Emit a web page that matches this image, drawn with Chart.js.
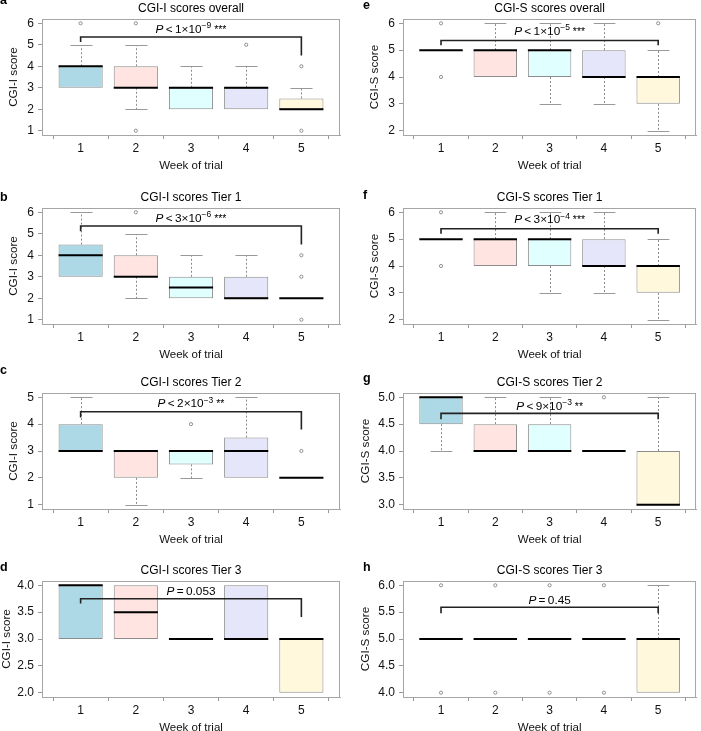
<!DOCTYPE html>
<html>
<head>
<meta charset="utf-8">
<script src="https://cdn.jsdelivr.net/npm/chart.js@4.4.1/dist/chart.umd.min.js"></script>
<style>
  html, body { margin: 0; padding: 0; background: #fff; }
  body { position: relative; width: 701px; height: 731px; overflow: hidden; font-family: "Liberation Sans", Arial, sans-serif; }
  canvas { position: absolute; }
  .tag { position: absolute; font-size: 12.5px; line-height: 12.5px; font-weight: bold; color: #000; }
</style>
</head>
<body>
<script>
// ---- data ----
const weeks = [1, 2, 3, 4, 5];
const boxFill = ['#ADD8E6', '#FFE4E1', '#E0FFFF', '#E6E6FA', '#FFF8DC'];

// each row is one week: [lower whisker, Q1, median, Q3, upper whisker]
const cgiIOverall = [[3, 3, 4, 4, 5], [2, 3, 3, 4, 5], [2, 2, 3, 3, 4], [2, 2, 3, 3, 4], [2, 2, 2, 2.5, 3]];
const cgiIOverallOut = [[6], [6, 1], [], [5], [4, 1]];
const cgiITier1 = [[3, 3, 4, 4.5, 6], [2, 3, 3, 4, 5], [2, 2, 2.5, 3, 4], [2, 2, 2, 3, 4], [2, 2, 2, 2, 2]];
const cgiITier1Out = [[], [6], [], [], [4, 3, 1]];
const cgiITier2 = [[3, 3, 3, 4, 5], [1, 2, 3, 3, 3], [2, 2.5, 3, 3, 3], [2, 2, 3, 3.5, 5], [2, 2, 2, 2, 2]];
const cgiITier2Out = [[], [], [4], [], [3]];
const cgiITier3 = [[3, 3, 4, 4, 4], [3, 3, 3.5, 4, 4], [3, 3, 3, 3, 3], [3, 3, 3, 4, 4], [2, 2, 3, 3, 3]];
const cgiITier3Out = [[], [], [], [], []];

const cgiSOverall = [[5, 5, 5, 5, 5], [4, 4, 5, 5, 6], [3, 4, 5, 5, 6], [3, 4, 4, 5, 6], [2, 3, 4, 4, 5]];
const cgiSOverallOut = [[6, 4], [], [], [], [6]];
const cgiSTier1 = [[5, 5, 5, 5, 5], [4, 4, 5, 5, 6], [3, 4, 5, 5, 6], [3, 4, 4, 5, 6], [2, 3, 4, 4, 5]];
const cgiSTier1Out = [[6, 4], [], [], [], []];
const cgiSTier2 = [[4, 4.5, 5, 5, 5], [4, 4, 4, 4.5, 5], [4, 4, 4, 4.5, 5], [4, 4, 4, 4, 4], [3, 3, 3, 4, 5]];
const cgiSTier2Out = [[], [], [], [5], []];
const cgiSTier3 = [[5, 5, 5, 5, 5], [5, 5, 5, 5, 5], [5, 5, 5, 5, 5], [5, 5, 5, 5, 5], [4, 4, 5, 5, 6]];
const cgiSTier3Out = [[6, 4], [6, 4], [6, 4], [6, 4], []];

// y tick labels
const ticksIOverall = [1, 2, 3, 4, 5, 6];
const ticksITier1 = [1, 2, 3, 4, 5, 6];
const ticksITier2 = [1, 2, 3, 4, 5];
const ticksITier3 = [2, 2.5, 3, 3.5, 4];
const ticksSOverall = [2, 3, 4, 5, 6];
const ticksSTier1 = [2, 3, 4, 5, 6];
const ticksSTier2 = [3, 3.5, 4, 4.5, 5];
const ticksSTier3 = [4, 4.5, 5, 5.5, 6];

// week 1 vs week 5 comparison: [bracket level, left end, right end, label level]
const bracketA = [5.36, 5.13, 4.5, 5.75];
const bracketB = [5.36, 5.12, 4.5, 5.75];
const bracketC = [4.46, 4.25, 3.8, 4.77];
const bracketD = [3.75, 3.66, 3.41, 3.9];
const bracketE = [5.36, 5.18, 5.18, 5.72];
const bracketF = [5.39, 5.2, 5.2, 5.74];
const bracketG = [4.70, 4.59, 4.59, 4.84];
const bracketH = [5.59, 5.48, 5.48, 5.73];

// P value labels: [relation, mantissa, exponent, stars]
const pA = ['<', '1\u00d710', '\u22129', '***'];
const pB = ['<', '3\u00d710', '\u22126', '***'];
const pC = ['<', '2\u00d710', '\u22123', '**'];
const pD = ['=', '0.053', '', ''];
const pE = ['<', '1\u00d710', '\u22125', '***'];
const pF = ['<', '3\u00d710', '\u22124', '***'];
const pG = ['<', '9\u00d710', '\u22123', '**'];
const pH = ['=', '0.45', '', ''];

// ---- layout ----
const panels = [
  { tag: 'a', col: 0, top: 0,   box: cgiIOverall, out: cgiIOverallOut, ticks: ticksIOverall, title: 'CGI-I scores overall', ylab: 'CGI-I score', bracket: bracketA, p: pA, ylabPad: 7, tagTop: -5.6 },
  { tag: 'b', col: 0, top: 189, box: cgiITier1, out: cgiITier1Out, ticks: ticksITier1, title: 'CGI-I scores Tier 1', ylab: 'CGI-I score', bracket: bracketB, p: pB, ylabPad: 7, tagTop: 191.4 },
  { tag: 'c', col: 0, top: 374, box: cgiITier2, out: cgiITier2Out, ticks: ticksITier2, title: 'CGI-I scores Tier 2', ylab: 'CGI-I score', bracket: bracketC, p: pC, ylabPad: 7, tagTop: 364.4 },
  { tag: 'd', col: 0, top: 562, box: cgiITier3, out: cgiITier3Out, ticks: ticksITier3, title: 'CGI-I scores Tier 3', ylab: 'CGI-I score', bracket: bracketD, p: pD, ylabPad: 0, tagTop: 561.4 },
  { tag: 'e', col: 1, top: 0,   box: cgiSOverall, out: cgiSOverallOut, ticks: ticksSOverall, title: 'CGI-S scores overall', ylab: 'CGI-S score', bracket: bracketE, p: pE, ylabPad: 18, tagTop: -0.6 },
  { tag: 'f', col: 1, top: 189, box: cgiSTier1, out: cgiSTier1Out, ticks: ticksSTier1, title: 'CGI-S scores Tier 1', ylab: 'CGI-S score', bracket: bracketF, p: pF, ylabPad: 18, tagTop: 189.4 },
  { tag: 'g', col: 1, top: 374, box: cgiSTier2, out: cgiSTier2Out, ticks: ticksSTier2, title: 'CGI-S scores Tier 2', ylab: 'CGI-S score', bracket: bracketG, p: pG, ylabPad: 9, tagTop: 372.4 },
  { tag: 'h', col: 1, top: 562, box: cgiSTier3, out: cgiSTier3Out, ticks: ticksSTier3, title: 'CGI-S scores Tier 3', ylab: 'CGI-S score', bracket: bracketH, p: pH, ylabPad: 9, tagTop: 561.4 }
];

const cols = [
  { left: 0, width: 350, yWidth: 42, padRight: 10, tagLeft: 0 },
  { left: 350, width: 351, yWidth: 53, padRight: 1, tagLeft: 363 }
];

const FONT = '"Liberation Sans", Arial, sans-serif';
Chart.defaults.font.family = FONT;
Chart.defaults.color = '#111';

// draws "P < 1x10^-9 ***" centred on cx
function drawP(ctx, cx, cy, parts) {
  const [rel, mant, exp, stars] = parts;
  const segs = [
    { t: 'P', f: 'italic 11.8px ' + FONT, dy: 0 },
    { t: '\u2009' + rel + '\u2009' + mant, f: '11.8px ' + FONT, dy: 0 }
  ];
  if (exp) segs.push({ t: exp, f: '8.5px ' + FONT, dy: -4.5 });
  if (stars) segs.push({ t: ' ' + stars, f: '10.5px ' + FONT, dy: 0 });
  let total = 0;
  segs.forEach(s => { ctx.font = s.f; s.w = ctx.measureText(s.t).width; total += s.w; });
  let xx = cx - total / 2;
  ctx.textAlign = 'left';
  ctx.textBaseline = 'alphabetic';
  ctx.fillStyle = '#000';
  segs.forEach(s => { ctx.font = s.f; ctx.fillText(s.t, xx, cy + 4 + s.dy); xx += s.w; });
}

const boxExtras = {
  id: 'boxExtras',
  beforeDatasetsDraw(chart, args, opts) {
    const { ctx, scales: { x, y } } = chart;
    const half = 0.4 * (x.getPixelForValue(2) - x.getPixelForValue(1));
    ctx.save();
    ctx.lineWidth = 1;
    opts.box.forEach((b, i) => {
      const cx = Math.round(x.getPixelForValue(weeks[i])) + 0.5;
      [[b[0], b[1]], [b[4], b[3]]].forEach(([end, edge]) => {
        if (end === edge) return;
        const ye = Math.round(y.getPixelForValue(end)) + 0.5;
        const yb = y.getPixelForValue(edge);
        // whisker
        ctx.setLineDash([2, 2]);
        ctx.strokeStyle = '#8a8a8a';
        ctx.beginPath(); ctx.moveTo(cx, yb); ctx.lineTo(cx, ye); ctx.stroke();
        // staple
        ctx.setLineDash([]);
        ctx.strokeStyle = '#999';
        ctx.beginPath(); ctx.moveTo(cx - half / 2, ye); ctx.lineTo(cx + half / 2, ye); ctx.stroke();
      });
    });
    ctx.restore();
  },
  afterDatasetsDraw(chart, args, opts) {
    const { ctx, chartArea: a, scales: { x, y } } = chart;
    const half = 0.4 * (x.getPixelForValue(2) - x.getPixelForValue(1));
    ctx.save();
    // medians
    ctx.strokeStyle = '#000';
    ctx.lineWidth = 2;
    opts.box.forEach((b, i) => {
      const cx = x.getPixelForValue(weeks[i]);
      const ym = y.getPixelForValue(b[2]);
      ctx.beginPath(); ctx.moveTo(cx - half, ym); ctx.lineTo(cx + half, ym); ctx.stroke();
    });
    // plot frame
    ctx.strokeStyle = '#a6a6a6';
    ctx.lineWidth = 1;
    ctx.strokeRect(Math.round(a.left) + 0.5, Math.round(a.top) + 0.5, Math.round(a.width) - 1, Math.round(a.height));
    // comparison bracket week 1 vs week 5
    const [lev, lEnd, rEnd, labLev] = opts.bracket;
    const x1 = x.getPixelForValue(weeks[0]), x5 = x.getPixelForValue(weeks[4]);
    ctx.strokeStyle = '#222';
    ctx.lineWidth = 1.6;
    ctx.beginPath();
    ctx.moveTo(x1, y.getPixelForValue(lEnd));
    ctx.lineTo(x1, y.getPixelForValue(lev));
    ctx.lineTo(x5, y.getPixelForValue(lev));
    ctx.lineTo(x5, y.getPixelForValue(rEnd));
    ctx.stroke();
    drawP(ctx, x.getPixelForValue(weeks[2]), y.getPixelForValue(labLev), opts.p);
    // panel title
    ctx.font = '12px ' + FONT;
    ctx.fillStyle = '#000';
    ctx.textAlign = 'center';
    ctx.textBaseline = 'middle';
    ctx.fillText(opts.title, (a.left + a.right) / 2, a.top - 10);
    ctx.restore();
  }
};

panels.forEach(p => {
  const col = cols[p.col];
  const canvas = document.createElement('canvas');
  canvas.width = col.width;
  canvas.height = 175;
  canvas.style.left = col.left + 'px';
  canvas.style.top = p.top + 'px';
  document.body.appendChild(canvas);

  const tag = document.createElement('div');
  tag.className = 'tag';
  tag.textContent = p.tag;
  tag.style.left = col.tagLeft + 'px';
  tag.style.top = p.tagTop + 'px';
  document.body.appendChild(tag);

  const span = p.ticks[p.ticks.length - 1] - p.ticks[0];
  const decimals = p.ticks.some(v => v % 1 !== 0) ? 1 : 0;

  const outPts = [];
  p.out.forEach((arr, i) => arr.forEach(v => outPts.push({ x: weeks[i], y: v })));

  new Chart(canvas, {
    type: 'bar',
    data: {
      datasets: [
        {
          type: 'bar',
          data: p.box.map((b, i) => ({ x: weeks[i], y: [b[1], b[3]] })),
          backgroundColor: boxFill,
          borderColor: '#8c8c8c',
          borderWidth: 1,
          borderSkipped: false,
          categoryPercentage: 0.8,
          barPercentage: 1.0
        },
        {
          type: 'scatter',
          data: outPts,
          pointRadius: 1.6,
          pointBorderWidth: 0.8,
          pointBorderColor: '#777',
          pointBackgroundColor: 'rgba(255,255,255,0)'
        }
      ]
    },
    options: {
      responsive: false,
      animation: false,
      devicePixelRatio: 1,
      layout: { padding: { top: 19, right: col.padRight, left: 0, bottom: 0 } },
      plugins: {
        legend: { display: false },
        tooltip: { enabled: false },
        boxExtras: { box: p.box, bracket: p.bracket, p: p.p, title: p.title }
      },
      scales: {
        x: {
          type: 'linear',
          min: 0.3,
          max: 5.7,
          offset: false,
          afterBuildTicks: s => { s.ticks = weeks.map(v => ({ value: v })); },
          afterFit: s => { s.height = 40; },
          ticks: { autoSkip: false, maxRotation: 0, padding: 2, color: '#111', font: { size: 12 } },
          grid: { display: true, drawOnChartArea: false, drawTicks: true, tickLength: 4, color: '#999' },
          border: { display: true, color: '#a6a6a6' },
          title: { display: true, text: 'Week of trial', color: '#111', font: { size: 11.5 }, padding: { top: 0, bottom: 2 } }
        },
        y: {
          type: 'linear',
          min: p.ticks[0] - 0.04 * span,
          max: p.ticks[p.ticks.length - 1] + 0.04 * span,
          afterBuildTicks: s => { s.ticks = p.ticks.map(v => ({ value: v })); },
          afterFit: s => { s.width = col.yWidth; },
          ticks: { autoSkip: false, padding: 4, color: '#111', font: { size: 12 }, callback: v => v.toFixed(decimals) },
          grid: { display: true, drawOnChartArea: false, drawTicks: true, tickLength: 4, color: '#999' },
          border: { display: true, color: '#a6a6a6' },
          title: { display: true, text: p.ylab, color: '#111', font: { size: 11.7 }, padding: { top: p.ylabPad, bottom: 0 } }
        }
      }
    },
    plugins: [boxExtras]
  });
});
</script>
</body>
</html>
